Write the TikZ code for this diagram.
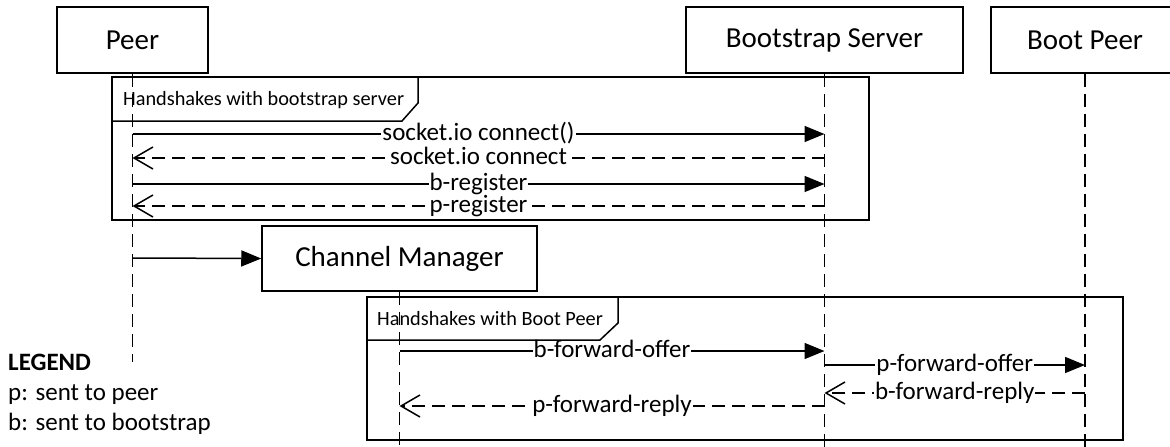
\documentclass[tikz,border=0pt]{standalone}
\usepackage{fontspec}
\setmainfont{Carlito}
\usetikzlibrary{arrows.meta}
\begin{document}
\begin{tikzpicture}[x=1pt,y=-1pt,
  actor/.style={draw,line width=1.5pt,minimum height=66pt,inner sep=0pt,font=\fontsize{29}{34}\selectfont},
  life/.style={line width=1.5pt,dash pattern=on 13pt off 7pt},
  frm/.style={draw,line width=1.5pt},
  call/.style={line width=1.5pt,-{Triangle[length=20pt,width=16pt]}},
  reply/.style={line width=1.5pt,dash pattern=on 13pt off 7pt,-{Straight Barb[length=19pt,width=22pt,line width=1.5pt]}},
  msg/.style={fill=white,inner xsep=1pt,inner ysep=0pt,anchor=base,yshift=-6pt,
    text height=13pt,text depth=3pt,font=\fontsize{25}{30}\selectfont},
  ftitle/.style={anchor=base west,inner sep=0pt,font=\fontsize{20.3}{24}\selectfont},
  legend/.style={anchor=base west,inner sep=0pt,font=\fontsize{25}{30}\selectfont}]
\clip (0,0) rectangle (1170,447);

% participants
\node[actor,minimum width=151pt] (peer) at (132.5,40) {Peer};
\node[actor,minimum width=277pt] (bss) at (824.5,40) {Bootstrap Server};
\node[actor,minimum width=188pt] (bp) at (1085,40) {Boot Peer};
\node[actor,minimum width=275pt,minimum height=65pt] (cm) at (399.5,258.5) {Channel Manager};

% combined fragments
\draw[frm] (112,77) rectangle (869,220);
\draw[frm] (418,77) -- (418,103) -- (402,121) -- (112,121);
\node[ftitle] (f1) at (123,105) {Handshakes with bootstrap server};
\draw[frm] (367,297) rectangle (1123,440);
\draw[frm] (618,297) -- (618,323) -- (600,340) -- (367,340);
\node[ftitle] (f2) at (377,325) {Handshakes with Boot Peer};

% lifelines
\coordinate (peerEnd) at (132.5,362);
\draw[life] (peer.south) -- (peerEnd);
\draw[life] (bss.south) -- (bss.south |- 0,447);
\draw[life] (bp.south) -- (bp.south |- 0,447);
\draw[life] (cm.south) -- (cm.south |- 0,447);

% points on the lifelines
\foreach \y/\n in {134/a,158/b,184/c,206/d,258/e}{
  \coordinate (p\n) at (peer.south |- 0,\y);
  \coordinate (s\n) at (bss.south |- 0,\y);
}
\foreach \y/\n in {351/f,365/g,393/h,406/i}{
  \coordinate (c\n) at (cm.south |- 0,\y);
  \coordinate (s\n) at (bss.south |- 0,\y);
  \coordinate (b\n) at (bp.south |- 0,\y);
}

% messages
\draw[call] (pa) -- node[msg]{socket.io connect()} (sa);
\draw[reply] (sb) -- node[msg]{socket.io connect} (pb);
\draw[call] (pc) -- node[msg]{b-register} (sc);
\draw[reply] (sd) -- node[msg]{p-register} (pd);
\draw[call] (pe) -- (cm.west);
\draw[call] (cf) -- node[msg]{b-forward-offer} (sf);
\draw[call] (sg) -- node[msg]{p-forward-offer} (bg);
\draw[reply] (bh) -- node[msg]{b-forward-reply} (sh);
\draw[reply] (si) -- node[msg]{p-forward-reply} (ci);

% legend
\node[legend,font=\fontsize{25}{30}\selectfont\bfseries] (lg) at (8,370) {LEGEND};
\node[legend] (lp) at (8,400) {p: sent to peer};
\node[legend] (lb) at (8,430) {b: sent to bootstrap};
\end{tikzpicture}
\end{document}
